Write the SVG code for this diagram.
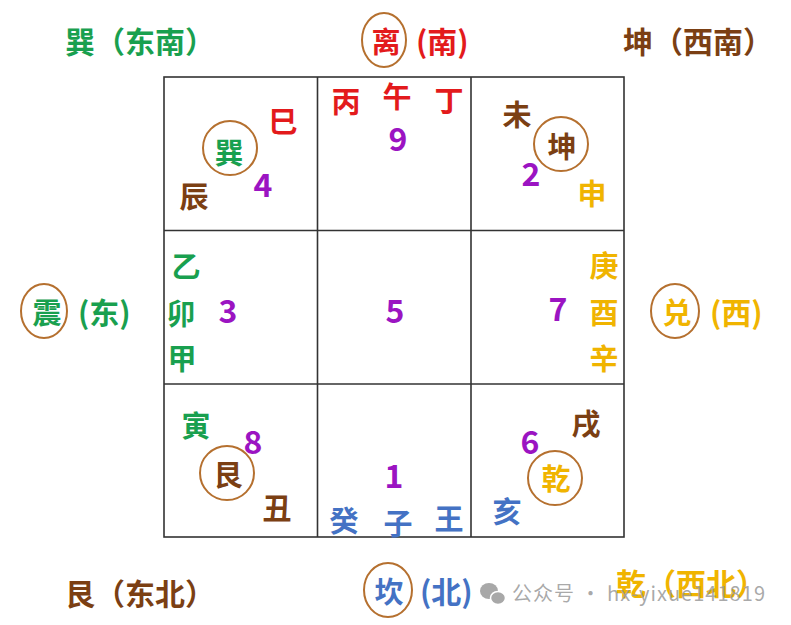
<svg xmlns="http://www.w3.org/2000/svg" width="791" height="625" viewBox="0 0 791 625">
<style>
text{font-family:"Noto Sans CJK SC","Noto Sans",sans-serif;font-weight:bold;}
.c{text-anchor:middle;dominant-baseline:central;font-size:29px;}
.d{text-anchor:middle;dominant-baseline:central;font-size:32px;fill:#9b14c2;}
.l{dominant-baseline:central;font-size:30px;}
.g{fill:#19a04f}.r{fill:#e31a1c}.b{fill:#7b3f13}.y{fill:#f0b400}.u{fill:#4472c4}
.ring{fill:none;stroke:#b5702f;stroke-width:2}
.grid{fill:none;stroke:#333;stroke-width:1.6}
.wm{font-weight:normal;font-size:20px;fill:#9a9a9a;fill-opacity:0.85;dominant-baseline:central;}
</style>
<rect width="791" height="625" fill="#fff"/>
<g id="connectors" class="grid">
<rect x="164" y="77" width="460" height="460"/>
<line x1="317.5" y1="77" x2="317.5" y2="537"/>
<line x1="471" y1="77" x2="471" y2="537"/>
<line x1="164" y1="230.5" x2="624" y2="230.5"/>
<line x1="164" y1="384" x2="624" y2="384"/>
</g>
<g id="label-se"><text class="l g" x="65" y="40">巽（东南）</text></g>
<g id="label-s"><ellipse class="ring" cx="384" cy="40" rx="22" ry="27"/><text class="c r" x="386" y="40">离</text><text class="l r" x="416" y="40">(南)</text></g>
<g id="label-sw"><text class="l b" x="623" y="40">坤（西南）</text></g>
<g id="label-e"><ellipse class="ring" cx="44" cy="311" rx="23" ry="27"/><text class="c g" x="47" y="311">震</text><text class="l g" x="78" y="311">(东)</text></g>
<g id="label-w"><ellipse class="ring" cx="675" cy="311" rx="24" ry="27"/><text class="c y" x="677" y="311">兑</text><text class="l y" x="710" y="311">(西)</text></g>
<g id="label-ne"><text class="l b" x="65" y="592">艮（东北）</text></g>
<g id="label-n"><ellipse class="ring" cx="388" cy="590" rx="24" ry="27"/><text class="c u" x="389" y="590">坎</text><text class="l u" x="420" y="590">(北)</text></g>
<g id="label-nw"><text class="l y" x="616" y="582">乾（西北）</text></g>

<g id="cell-xun">
<circle class="ring" cx="230" cy="148" r="27"/>
<text class="c g" x="229" y="151">巽</text>
<text class="c r" x="283" y="120">巳</text>
<text class="c b" x="194" y="195">辰</text>
<text class="d" x="263" y="183">4</text>
</g>
<g id="cell-li">
<text class="c r" x="346" y="100">丙</text>
<text class="c r" x="397" y="95">午</text>
<text class="c r" x="449" y="99">丁</text>
<text class="d" x="398" y="137">9</text>
</g>
<g id="cell-kun">
<circle class="ring" cx="561" cy="144" r="27"/>
<text class="c b" x="562" y="145">坤</text>
<text class="c b" x="517" y="113">未</text>
<text class="c y" x="592" y="192">申</text>
<text class="d" x="531" y="172">2</text>
</g>
<g id="cell-zhen">
<text class="c g" x="186" y="265">乙</text>
<text class="c g" x="181" y="312">卯</text>
<text class="c g" x="182" y="357">甲</text>
<text class="d" x="228" y="309">3</text>
</g>
<g id="cell-center"><text class="d" x="395" y="309">5</text></g>
<g id="cell-dui">
<text class="d" x="558" y="307">7</text>
<text class="c y" x="604" y="264">庚</text>
<text class="c y" x="604" y="311">酉</text>
<text class="c y" x="604" y="357">辛</text>
</g>
<g id="cell-gen">
<circle class="ring" cx="227" cy="473" r="27"/>
<text class="c b" x="228" y="473">艮</text>
<text class="c g" x="196" y="424">寅</text>
<text class="c b" x="277" y="507">丑</text>
<text class="d" x="253" y="440">8</text>
</g>
<g id="cell-kan">
<text class="d" x="394" y="474">1</text>
<text class="c u" x="344" y="519">癸</text>
<text class="c u" x="398" y="522">子</text>
<text class="c u" x="449" y="517">王</text>
</g>
<g id="cell-qian">
<circle class="ring" cx="555" cy="478" r="27"/>
<text class="c y" x="556" y="477">乾</text>
<text class="c b" x="586" y="422">戌</text>
<text class="c u" x="507" y="510">亥</text>
<text class="d" x="530" y="440">6</text>
</g>
<g id="watermark">
<ellipse cx="489" cy="591" rx="9" ry="8" fill="#a8a8a8"/>
<ellipse cx="498" cy="598" rx="7.5" ry="6.5" fill="#a8a8a8" stroke="#fff" stroke-width="1.5"/>
<text class="wm" x="512" y="592" textLength="253">公众号 · hx-yixue141819</text>
</g>
</svg>
